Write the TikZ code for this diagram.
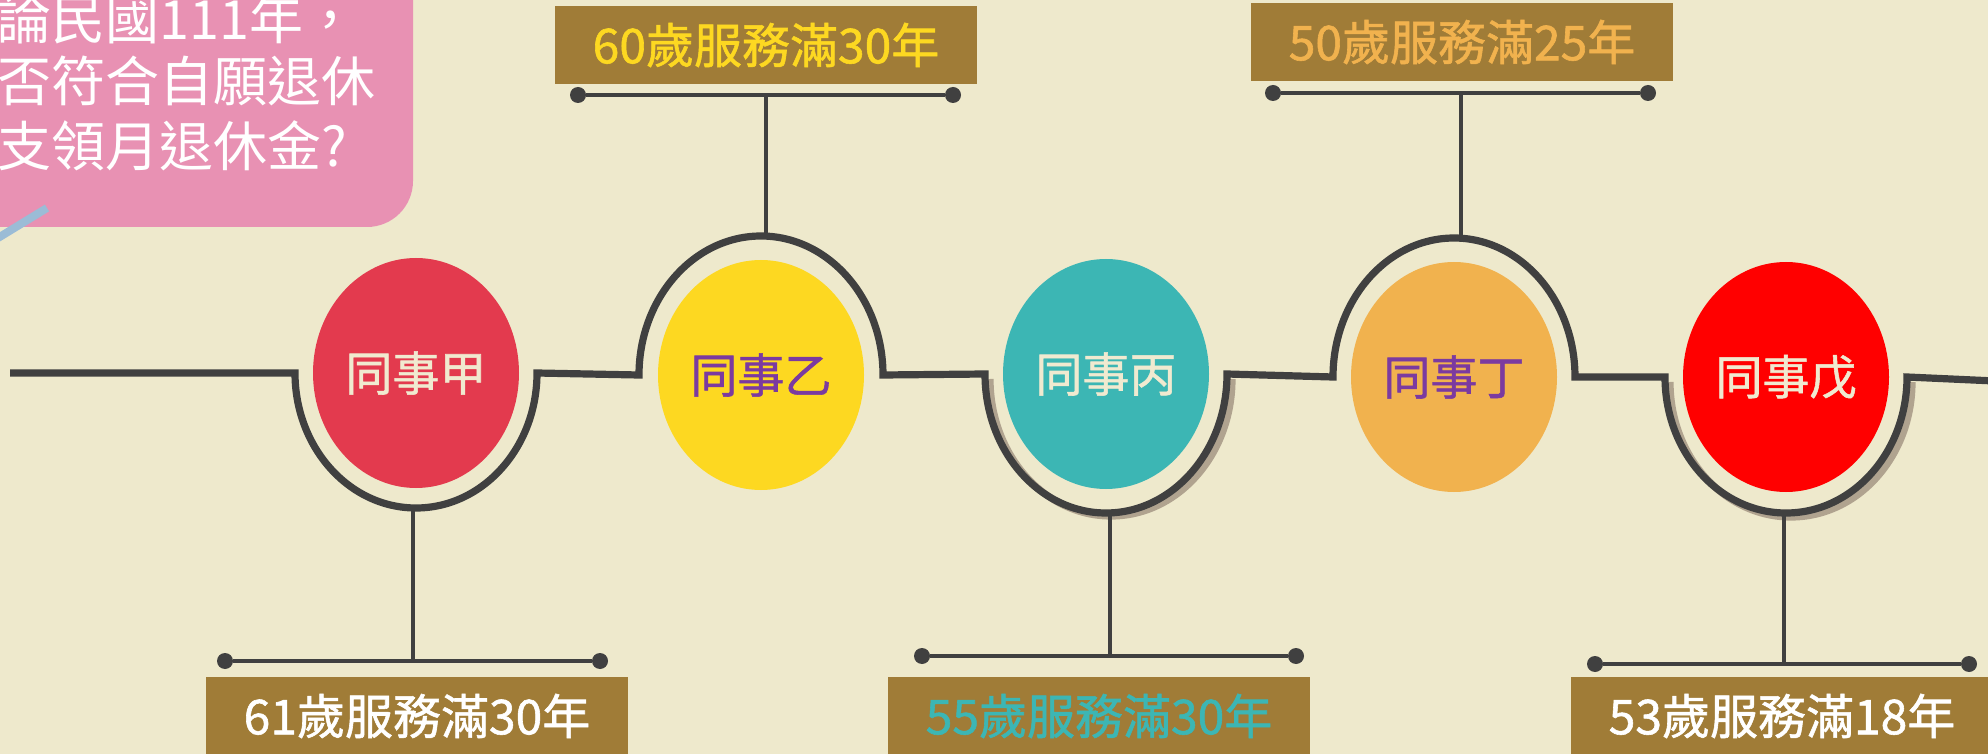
\documentclass[tikz,border=0pt]{standalone}
\usepackage{fontspec}
\setmainfont{Noto Sans CJK TC}
\newfontfamily\mediumcjk{Noto Sans CJK TC}[FakeBold=1.2]
\usetikzlibrary{shapes.geometric, positioning, calc}

\definecolor{bgcream}{HTML}{EEE9CC}
\definecolor{pinkbox}{HTML}{E891B3}
\definecolor{bluestub}{HTML}{9BBCD6}
\definecolor{linegrey}{HTML}{404040}
\definecolor{shadowtan}{HTML}{B0A38F}
\definecolor{boxbrown}{HTML}{A07C37}
\definecolor{redjia}{HTML}{E33A4E}
\definecolor{yellowyi}{HTML}{FDD821}
\definecolor{tealbing}{HTML}{3CB6B4}
\definecolor{orangeding}{HTML}{F1B24E}
\definecolor{redwu}{HTML}{FF0000}
\definecolor{purpletext}{HTML}{7B3AA0}
\definecolor{creamtext}{HTML}{F0EAD0}

\begin{document}
\begin{tikzpicture}[x=0.5pt, y=-0.5pt]
    % Styles for circles, boxes and lines
    \tikzstyle{worker} = [ellipse, inner sep=0pt, minimum width=103pt, minimum height=115pt, font=\mediumcjk\fontsize{23.5}{23.5}\selectfont]
    \tikzstyle{agebox} = [rectangle, fill=boxbrown, inner sep=0pt, minimum width=211pt, minimum height=39pt, font=\mediumcjk\fontsize{24}{24}\selectfont]
    \tikzstyle{question} = [anchor=west, inner sep=0pt, text=white, font=\fontsize{27}{27}\selectfont]
    \tikzstyle{spine} = [draw=linegrey, line width=3.6pt]
    \tikzstyle{ringshadow} = [draw=shadowtan, line width=3.6pt]
    \tikzstyle{stem} = [draw=linegrey, line width=1.8pt]
    \tikzstyle{bar} = [draw=linegrey, line width=2.2pt]
    \tikzstyle{knob} = [circle, fill=linegrey, inner sep=0pt, minimum size=8pt]

    \useasboundingbox (0,0) rectangle (1988,754);
    \clip (0,0) rectangle (1988,754);
    \fill[bgcream] (0,0) rectangle (1988,754);

    % Question bubble
    \fill[pinkbox, rounded corners=23pt] (-60,-60) rectangle (413,227);
    \node[question] (q1) at (-3,19) {論民國111年，};
    \node[question] (q2) at (-3,81) {否符合自願退休};
    \node[question] (q3) at (-3,146) {支領月退休金?};
    \draw[bluestub, line width=4pt] (-20,249) -- (47,208);

    % Nodes
    \node[worker, fill=redjia, text=creamtext] (jia) at (416,373) {同事甲};
    \node[worker, fill=yellowyi, text=purpletext] (yi) at (761,375) {同事乙};
    \node[worker, fill=tealbing, text=creamtext] (bing) at (1106,374) {同事丙};
    \node[worker, fill=orangeding, text=purpletext] (ding) at (1454,377) {同事丁};
    \node[worker, fill=redwu, text=creamtext] (wu) at (1786,377) {同事戊};
    \coordinate (start) at (10,373);
    \coordinate (finish) at (1995,381);

    % Spine with rings
    \draw[ringshadow] ($(bing)+(-116,5)$) arc[start angle=180, end angle=0, x radius=121, y radius=137];
    \draw[ringshadow] ($(wu)+(-116,5)$) arc[start angle=180, end angle=0, x radius=121, y radius=135];
    \draw[spine] (start) -- ($(jia)+(-121,0)$)
        arc[start angle=180, end angle=0, x radius=121, y radius=135]
        -- ($(yi)+(-122,0)$)
        arc[start angle=180, end angle=360, x radius=122, y radius=139]
        -- ($(bing)+(-121,0)$)
        arc[start angle=180, end angle=0, x radius=121, y radius=139]
        -- ($(ding)+(-121,0)$)
        arc[start angle=180, end angle=360, x radius=121, y radius=139]
        -- ($(wu)+(-121,0)$)
        arc[start angle=180, end angle=0, x radius=121, y radius=136]
        -- (finish);

    % Bars with knobs
    \node[knob] (jia l) at (225,661) {};
    \node[knob] (jia r) at (600,661) {};
    \node[knob] (yi l) at (578,95) {};
    \node[knob] (yi r) at (953,95) {};
    \node[knob] (bing l) at (922,656) {};
    \node[knob] (bing r) at (1296,656) {};
    \node[knob] (ding l) at (1273,93) {};
    \node[knob] (ding r) at (1648,93) {};
    \node[knob] (wu l) at (1595,664) {};
    \node[knob] (wu r) at (1969,664) {};
    \draw[bar] (jia l) -- (jia r);
    \draw[bar] (yi l) -- (yi r);
    \draw[bar] (bing l) -- (bing r);
    \draw[bar] (ding l) -- (ding r);
    \draw[bar] (wu l) -- (wu r);

    % Stems
    \draw[stem] ($(jia)+(-3,135)$) -- ($(jia |- jia l)+(-3,0)$);
    \draw[stem] ($(yi)+(5,-139)$) -- ($(yi |- yi l)+(5,0)$);
    \draw[stem] ($(bing)+(4,139)$) -- ($(bing |- bing l)+(4,0)$);
    \draw[stem] ($(ding)+(7,-139)$) -- ($(ding |- ding l)+(7,0)$);
    \draw[stem] ($(wu)+(-2,136)$) -- ($(wu |- wu l)+(-2,0)$);

    % Age boxes
    \node[agebox, text=white] (jia age) at (417,716) {61歲服務滿30年};
    \node[agebox, text=yellowyi] (yi age) at (766,45) {60歲服務滿30年};
    \node[agebox, text=tealbing] (bing age) at (1099,716) {55歲服務滿30年};
    \node[agebox, text=orangeding] (ding age) at (1462,42) {50歲服務滿25年};
    \node[agebox, text=white] (wu age) at (1782,716) {53歲服務滿18年};
\end{tikzpicture}
\end{document}
